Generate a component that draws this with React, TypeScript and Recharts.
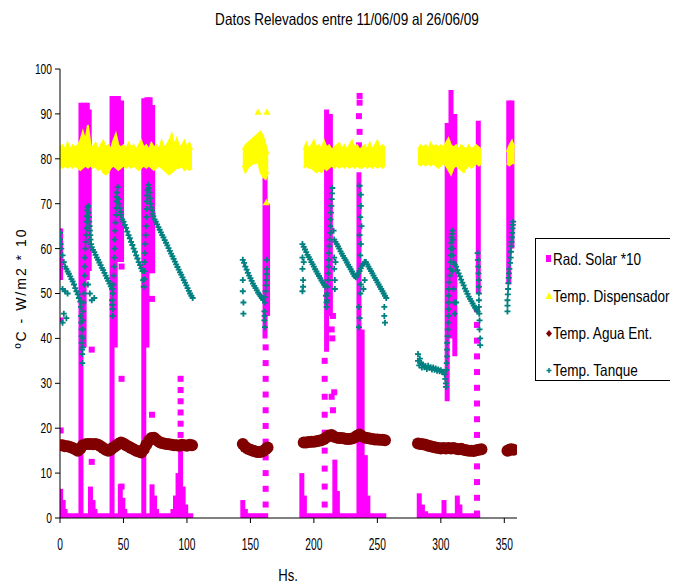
import React from 'react';
import { ComposedChart, XAxis, YAxis, Scatter, Line, Area } from 'recharts';

const FONT = '"Liberation Sans", Arial, sans-serif';

const xTicks = [0, 50, 100, 150, 200, 250, 300, 350];
const yTicks = [0, 10, 20, 30, 40, 50, 60, 70, 80, 90, 100];

// Rad. Solar *10 : daytime columns [hour, low, high]
const solarColumns = [
  [0.5, 53, 64.5], [0.5, 0, 6.5], [2.5, 0, 4], [4, 0, 2],
  [16.5, 0, 92.5], [19, 38, 92.5], [21.5, 53, 92.5], [23, 55, 91], [24, 0, 7], [26, 0, 4], [27.5, 0, 2],
  [41, 0, 94], [43.5, 38, 94], [46, 57, 94], [48.5, 57, 93], [47.5, 0, 7.5], [49.5, 0, 4.5], [51, 0, 2],
  [66, 0, 93.5], [68.5, 38, 93.7], [71, 54.5, 93.7], [73, 54.5, 92], [72.5, 0, 7.5], [74.5, 0, 5], [76, 0, 2],
  [89, 0, 2], [91, 0, 5], [93, 0, 10], [95, 0, 16], [97, 0, 7], [99, 0, 3],
  [144, 0, 4], [146, 0, 2], [161.5, 40, 76.5], [163.5, 45, 70],
  [190.5, 0, 10], [192.5, 0, 5], [210, 37, 91], [213, 45, 90], [216.5, 0, 13], [218.5, 0, 6],
  [235.5, 0, 77], [238, 0, 42], [240.5, 0, 14], [242.5, 0, 5],
  [283, 0, 5.5], [285.5, 0, 3], [288, 0, 1.5], [302.5, 0, 4], [305, 26, 88], [308, 40, 95.3], [311, 36, 90], [313, 0, 5], [315, 0, 3],
  [329.5, 50, 88.5],
  [353.5, 52, 93], [356, 60, 93],
];

// Rad. Solar *10 : isolated readings [hour, value]
const solarSquares = [
  [0.5, 44], [0.5, 19.5], [25, 37.5], [25, 12.5], [48.5, 56], [48.5, 31], [48.5, 7], [72.5, 48.8], [72.5, 23],
  [95, 18.5], [95, 21], [95, 23.5], [95, 26], [95, 28.5], [95, 31],
  [162, 3], [162, 6.5], [162, 10], [162, 13.5], [162, 17], [162, 20.5], [162, 24], [162, 27.5], [162, 31], [162, 34.5], [162, 38],
  [208.5, 3], [208.5, 7], [208.5, 11], [208.5, 15], [208.5, 19], [208.5, 23], [208.5, 27], [208.5, 31], [208.5, 35],
  [214, 42], [214.5, 40], [215, 45], [214, 27], [215, 24], [216, 28],
  [235.5, 80], [235.5, 83], [236, 86], [235.5, 89.5], [236, 92.5], [236, 94],
  [328.5, 1], [328.5, 4.5], [328.5, 8], [328.5, 11.5], [328.5, 15], [328.5, 18.5], [328.5, 22], [328.5, 25.5],
  [328.5, 29], [328.5, 32.5], [328.5, 36], [328.5, 39.5], [328.5, 43], [328.5, 46.5],
];

// Rad. Solar *10 : night-time zero readings [from hour, to hour]
const solarNights = [[1, 105], [144, 164], [190, 257], [282, 331]];

// Temp. Dispensador : [hour, low, high]
const dispA = [
  [0, 78.5, 82.5], [2, 78, 83], [4, 78.5, 82], [6, 78, 83.5], [8, 78.5, 82], [10, 78, 83], [12, 78.5, 82.5], [14, 78, 83],
  [16, 77.5, 84], [18, 78, 86], [20, 78.5, 84], [22, 78, 87.5], [24, 78.5, 83], [26, 78, 82.5], [28, 78.5, 83.5], [30, 77.5, 82],
  [32, 78, 83], [34, 77, 84], [36, 76.5, 82.5], [38, 77, 83], [40, 78, 82], [42, 78.5, 84], [44, 78, 85.5], [46, 77.5, 83],
  [48, 78, 82.5], [50, 78.5, 83], [52, 78, 82], [54, 78.5, 83.5], [56, 78, 82.5], [58, 78.5, 83], [60, 78, 82], [62, 77.5, 83],
  [64, 78, 84], [66, 78.5, 82.5], [68, 78, 83], [70, 78.5, 82], [72, 78, 83.5], [74, 77.5, 82.5], [76, 78, 83], [78, 78.5, 82],
  [80, 78, 84], [82, 77.5, 82.5], [84, 77, 83], [86, 76.5, 84], [88, 77, 85.5], [90, 77.5, 83], [92, 78, 84.5], [94, 78, 82.5],
  [96, 78.5, 83], [98, 77.5, 84], [100, 78, 82.5], [102, 77.5, 83.5], [104, 78, 82],
];
const dispB = [
  [144, 78.5, 82], [146, 77, 83], [148, 78, 83.5], [150, 78.5, 84], [152, 79, 84.5], [154, 79, 85],
  [156, 79.5, 85.5], [158, 77, 86], [160, 76, 85], [162, 75.5, 83], [164, 77, 81],
];
const dispC = [
  [192, 78, 82], [194, 78.5, 83.5], [196, 78, 82], [198, 78, 83], [200, 77.5, 84], [202, 77, 82.5], [204, 77.5, 83],
  [206, 77, 82], [208, 78, 84], [210, 77.5, 82.5], [212, 78, 83], [214, 78.5, 82], [216, 78, 82.5], [218, 78.5, 83],
  [220, 78, 83.5], [222, 78.5, 82], [224, 78, 83], [226, 78.5, 82], [228, 78, 83], [230, 78.5, 84], [232, 78, 82.5],
  [234, 78.5, 83], [236, 78, 82], [238, 78, 82.5], [240, 78.5, 83], [242, 78, 82], [244, 78.5, 83.5], [246, 78, 82],
  [248, 78.5, 83], [250, 78, 84], [252, 78.5, 82.5], [254, 78, 83], [256, 78.5, 82.5],
];
const dispD = [
  [282, 79, 82], [284, 78.5, 83], [286, 79, 82.5], [288, 78.5, 83], [290, 79, 82], [292, 78.5, 83.5], [294, 79, 82.5],
  [296, 78.5, 83], [298, 78, 82.5], [300, 78.5, 83], [302, 79, 82.5], [304, 78.5, 83.5], [306, 77.5, 84.5], [308, 76.5, 83],
  [310, 78, 82.5], [312, 78.5, 83], [314, 78, 82], [316, 77.5, 83], [318, 77, 82.5], [320, 78, 82], [322, 78.5, 83],
  [324, 78, 82], [326, 78.5, 82.5], [328, 79, 83], [330, 78.5, 82.5], [332, 79, 82],
];
const dispE = [[352, 79, 81.5], [354, 78.5, 83], [356, 79, 84], [358, 79, 82.5]];
const dispSingles = [[156, 90.5], [163, 90.5], [162.5, 70.3]];

// Temp. Agua Ent. : [hour, value]
const aguaA = [
  [0, 16.2], [2, 16.2], [4, 16], [6, 16], [8, 15.8], [10, 15.6], [12, 15.3], [14, 15], [16, 15.4], [18, 16.2], [20, 16.4],
  [22, 16.5], [24, 16.5], [26, 16.4], [28, 16.5], [30, 16.3], [32, 16], [34, 15.6], [36, 15.2], [38, 15], [40, 15.2],
  [42, 15.7], [44, 16.1], [46, 16.5], [48, 16.8], [50, 16.6], [52, 16.2], [54, 15.9], [56, 15.6], [58, 15.3], [60, 15],
  [62, 14.8], [64, 14.6], [66, 15.3], [68, 16.3], [70, 17.2], [72, 17.8], [74, 17.9], [76, 17.4], [78, 17], [80, 16.7],
  [82, 16.6], [84, 16.5], [86, 16.4], [88, 16.3], [90, 16.2], [92, 16.2], [94, 16.1], [96, 16.3], [98, 16.2], [100, 16.1],
  [102, 16.3], [104, 16.2],
];
const aguaB = [
  [144, 16.5], [146, 15.8], [148, 15.4], [150, 15.2], [152, 15], [154, 14.8], [156, 14.7], [158, 14.7], [160, 14.9],
  [162, 15.3], [163.5, 15.7],
];
const aguaC = [
  [192, 16.8], [194, 16.8], [196, 16.9], [198, 17], [200, 17], [202, 17.1], [204, 17.2], [206, 17.3], [208, 17.6],
  [210, 18], [212, 18.4], [214, 18.5], [216, 18.1], [218, 17.9], [220, 17.8], [222, 17.8], [224, 17.7], [226, 17.6],
  [228, 17.6], [230, 17.7], [232, 17.9], [234, 18.3], [236, 18.6], [238, 18.2], [240, 17.9], [242, 17.8], [244, 17.7],
  [246, 17.6], [248, 17.5], [250, 17.5], [252, 17.4], [254, 17.4], [256, 17.3],
];
const aguaD = [
  [282, 16.6], [284, 16.5], [286, 16.4], [288, 16.3], [290, 16.1], [292, 16], [294, 15.8], [296, 15.7], [298, 15.6],
  [300, 15.5], [302, 15.6], [304, 15.5], [306, 15.6], [308, 15.5], [310, 15.6], [312, 15.4], [314, 15.3], [316, 15.4],
  [318, 15.2], [320, 15.1], [322, 15], [324, 15], [326, 14.9], [328, 15.1], [330, 15.2], [332, 15.3],
];
const aguaE = [[352.5, 15], [354, 15.2], [355.5, 15.3], [357, 15.2]];

// Temp. Tanque : [hour, value]
const tanqueA = [
  [0, 63.5], [0, 62], [0.5, 61], [1, 60], [2, 58.5], [3, 57], [4, 56], [5, 55.5], [6, 54.9], [7, 54.4], [8, 53.8], [9, 53.2],
  [10, 52.7], [11, 52], [12, 51.2], [13, 50.5], [14, 49.8], [15, 49], [16, 48.2], [16.5, 47],
  [2, 51], [4, 50.5], [6, 50], [2, 43.5], [3, 45.5], [5, 44.5],
  [16.5, 45], [16.7, 43.5], [17, 42], [17, 40.5], [17, 39], [17.3, 37.5], [17.5, 36.5], [17.5, 34.5], [17.8, 38],
  [18, 40], [18, 42], [18, 44], [18.3, 46], [18.5, 48], [18.7, 50], [19, 52], [19.2, 54], [19.5, 56], [19.7, 58],
  [20, 60], [20.2, 61.5], [20.5, 63], [20.7, 64.5], [21, 66], [21.2, 67.2], [21.5, 68.5], [21.8, 69.2], [22, 69.5],
  [22.5, 68], [22.8, 67], [23, 66], [23.3, 65], [23.5, 64], [23.8, 63], [24, 62], [24.5, 61],
  [25, 60.3], [26, 59.7], [27, 59.2], [28, 58.6], [29, 58], [30, 57.5], [31, 56.9], [32, 56.3], [33, 55.7], [34, 55.2],
  [35, 54.6], [36, 54], [37, 53.4], [38, 52.8], [39, 52.2], [40, 51.6], [41, 51],
  [22, 52], [23.5, 50], [25, 48.5], [27, 49],
  [41, 48.5], [41.2, 47.5], [41.5, 46.5], [41.5, 45], [41.7, 50],
  [42, 52], [42.2, 54], [42.5, 56], [42.7, 58], [43, 60], [43.2, 62], [43.5, 64], [43.7, 65.8], [44, 67.5], [44.2, 69],
  [44.5, 70.5], [44.7, 71.5], [45, 72.5], [45.5, 73.7],
  [46, 71], [46.5, 70], [47, 69], [47.5, 68.2], [48, 67.5], [49, 66.5], [50, 66], [51, 65.3], [52, 64.6], [53, 63.8],
  [54, 63], [55, 62.3], [56, 61.5], [57, 60.8], [58, 60], [59, 59.3], [60, 58.5], [61, 57.8], [62, 57], [63, 56.3],
  [64, 55.6], [65, 55],
  [65.5, 53], [66, 51.5], [66.3, 53.2], [66.5, 55], [66.7, 57], [67, 59], [67.2, 61], [67.5, 63], [67.7, 65], [68, 67],
  [68.2, 68.8], [68.5, 70.5], [68.7, 71.8], [69, 73], [69.5, 74.2],
  [70, 73.5], [70.5, 72.5], [71, 71.2], [71.5, 70], [72, 69.2], [72.5, 68.5], [73, 67.8], [73.5, 67.2], [74.5, 66.5],
  [75.5, 66], [76.5, 65.4], [77.5, 64.8], [78.5, 64.2],
  [79.5, 63.6], [80.5, 63], [81.5, 62.5], [82.5, 61.9], [83.5, 61.3], [84.5, 60.7], [85.5, 60.1], [86.5, 59.5],
  [87.5, 58.9], [88.5, 58.3], [89.5, 57.7], [90.5, 57.1], [91.5, 56.5], [92.5, 55.9], [93.5, 55.3], [94.5, 54.7],
  [95.5, 54.2], [96.5, 53.6], [97.5, 53], [98.5, 52.4], [99.5, 51.8], [100.5, 51.2], [101.5, 50.6], [102.5, 50],
  [103.5, 49.5], [104.5, 49],
];
const tanqueB = [
  [144, 57.5], [145, 56.8], [146, 56], [147, 55.3], [148, 54.6], [149, 54], [150, 53.4], [151, 52.8], [152, 52.2],
  [153, 51.7], [154, 51.2], [155, 50.7], [156, 50.2], [157, 49.8], [158, 49.4], [159, 49], [160, 48.6],
  [144, 53], [144, 50.5], [144.5, 48], [144.5, 45.5],
  [161, 46], [161, 44], [161.5, 42.5], [161.2, 45], [161.5, 48], [161.7, 49.2], [162, 50.5], [162.2, 51.8],
  [162.5, 53], [162.7, 54.3], [163, 55.5], [163, 57.5],
];
const tanqueC = [
  [191, 61], [192, 60.4], [193, 59.8], [194, 59.2], [195, 58.6], [196, 58.1], [197, 57.6], [198, 57], [199, 56.5],
  [200, 56], [201, 55.4], [202, 54.9], [203, 54.4], [204, 53.9], [205, 53.4], [206, 52.9], [207, 52.4], [208, 52], [209, 51.5],
  [191, 58], [191, 55.5], [191.5, 53], [191.5, 51.5], [191, 50.5], [192, 57],
  [209.5, 49.5], [210, 48], [210, 47], [210.3, 48.5], [210.5, 50], [210.7, 51.5], [211, 53], [211.2, 54.5], [211.5, 56],
  [211.7, 57.5], [212, 59], [212.2, 60.5], [212.5, 62], [212.7, 63.5], [213, 65], [213.2, 66.5], [213.5, 68],
  [213.7, 69.5], [214, 71], [214.2, 72.3], [214.5, 73.5],
  [215.5, 64], [216, 62], [217, 61.5], [218, 61], [219, 60.5], [220, 60], [221, 59.4], [222, 58.9], [223, 58.4],
  [224, 57.9], [225, 57.4], [226, 56.9], [227, 56.4], [228, 55.9], [229, 55.4], [230, 54.9], [231, 54.4], [232, 53.9], [233, 53.6],
  [216, 58], [216, 55.5], [216.5, 53], [216.5, 51], [217, 57],
  [234, 54], [235, 54.5], [236, 55], [237, 55.6], [238, 56.2], [239, 56.6], [240, 57], [241, 57],
  [242, 56.5], [243, 56], [244, 55.5], [245, 55], [246, 54.5], [247, 54], [248, 53.5], [249, 53], [250, 52.5],
  [251, 52], [252, 51.5], [253, 51], [254, 50.5], [255, 50], [256, 49.5], [257, 49],
  [236, 74], [237, 72], [237, 69.5], [236.5, 67], [237.5, 65], [236, 63], [237, 61], [236.5, 58.5], [237, 52],
  [236.5, 50], [235.5, 47], [236, 44.5], [235.5, 42.5], [239, 51], [240, 53], [255.5, 47], [255.5, 45], [256, 43.5],
];
const tanqueD = [
  [282, 36.5], [282, 35], [283, 34], [283.5, 35.5], [284.5, 34.5], [285, 33.5], [286, 34.2], [287, 33.6], [288, 33.8],
  [289, 33.2], [290, 33.9], [291, 33.4], [292, 33.6], [293, 33.1], [294, 33.5], [295, 33], [296, 33.3], [297, 32.8],
  [298, 33.1], [299, 32.7], [300, 32.9], [301, 32.5], [302, 32.6], [303, 32], [303.5, 31], [304, 30], [304, 29.2],
  [304.5, 33], [304.7, 34.5], [305, 36], [305, 37.5], [305, 39], [305.3, 40.5], [305.5, 42], [305.7, 43.5], [306, 45],
  [306, 46.5], [306, 48], [306.3, 49.5], [306.5, 51], [306.7, 52.5], [307, 54], [307.2, 55.5], [307.5, 57],
  [307.7, 58.5], [308, 60], [308.3, 61.3], [308.5, 62.5], [308.7, 63.3], [309, 64], [309.3, 62], [309.5, 60], [309.7, 58.5],
  [310, 57], [311, 56.5], [312, 56], [313, 55.2], [314, 54.5], [315, 53.8], [316, 53.1], [317, 52.4], [318, 51.8],
  [319, 51.1], [320, 50.5], [321, 49.9], [322, 49.3], [323, 48.8], [324, 48.3], [325, 47.8], [326, 47.3], [327, 46.8],
  [328, 46.4], [329, 46],
  [309, 55], [310, 51], [310.5, 48], [311, 45.5], [312, 48],
  [329, 59], [329.2, 57.5], [329.5, 56], [329.7, 54.5], [330, 53], [330, 51.5], [330, 50], [330, 48.5], [330, 47],
  [330.3, 45.5], [330.5, 44], [330.5, 42], [331, 40], [331, 38.5],
];
const tanqueE = [
  [352.5, 46], [352.5, 47.3], [352.5, 48.5], [352.8, 49.8], [353, 51], [353.2, 52.3], [353.5, 53.5], [353.7, 54.5],
  [354, 55.5], [354.5, 56.8], [355, 58], [355.2, 59.3], [355.5, 60.5], [355.7, 61.5], [356, 62.5], [356.2, 63.5],
  [356.5, 64.5], [356.7, 65.3], [357, 66],
];

const MAGENTA = '#FF00FF';
const YELLOW = '#FFFF00';
const MAROON = '#800000';
const TEAL = '#008080';

const pts = (rows: number[][]) => rows.map(([x, y]) => ({ x, y }));
const ranges = (rows: number[][]) => rows.map(([x, lo, hi]) => ({ x, range: [lo, hi] }));

const dispSegments = [dispA, dispB, dispC, dispD, dispE].map(ranges);
const aguaData = pts([...aguaA, ...aguaB, ...aguaC, ...aguaD, ...aguaE]);
const tanqueData = pts([...tanqueA, ...tanqueB, ...tanqueC, ...tanqueD, ...tanqueE]);

const Square = (p: any) => <rect x={p.cx - 3} y={p.cy - 3} width={6} height={6} fill={MAGENTA} />;
const Triangle = (p: any) => (
  <path d={`M${p.cx},${p.cy - 3.5}L${p.cx + 3.5},${p.cy + 3}L${p.cx - 3.5},${p.cy + 3}Z`} fill={YELLOW} />
);
const Dot = (p: any) => <circle cx={p.cx} cy={p.cy} r={6} fill={MAROON} />;
const Plus = (p: any) => (
  <path d={`M${p.cx - 3},${p.cy}h6M${p.cx},${p.cy - 3}v6`} stroke={TEAL} strokeWidth={1.8} fill="none" />
);

const XTick = ({ x, y, payload }: any) => (
  <g transform={`translate(${x},${y + 21})`}>
    <text transform="scale(0.82,1.3)" textAnchor="middle" dy="0.35em" fontSize={12.5} fontFamily={FONT} fill="#000">
      {payload.value}
    </text>
  </g>
);
const YTick = ({ x, y, payload }: any) => (
  <g transform={`translate(${x - 3},${y})`}>
    <text transform="scale(0.82,1.12)" textAnchor="end" dy="0.35em" fontSize={12.5} fontFamily={FONT} fill="#000">
      {payload.value}
    </text>
  </g>
);

const legendItems = [
  { label: 'Rad. Solar *10', marker: <rect x={0} y={0} width={5} height={7} fill={MAGENTA} /> },
  { label: 'Temp. Dispensador', marker: <path d="M3,0L6.5,7L-0.5,7Z" fill={YELLOW} /> },
  { label: 'Temp. Agua Ent.', marker: <path d="M3,0L6,3.5L3,7L0,3.5Z" fill={MAROON} /> },
  { label: 'Temp. Tanque', marker: <path d="M0.5,3.5h5M3,1v5" stroke={TEAL} strokeWidth={1.5} /> },
];

const textStyle = (size: number): React.CSSProperties => ({
  fontFamily: FONT, fontSize: size, whiteSpace: 'nowrap', color: '#000',
});

export default function App() {
  return (
    <div style={{ position: 'relative', width: 670, height: 577, overflow: 'hidden', background: '#fff' }}>
      <div style={{ position: 'absolute', left: 339, top: 10.5, transform: 'translate(-50%,-50%) scaleX(0.82)', ...textStyle(16.5) }}>
        Datos Relevados entre 11/06/09 al 26/06/09
      </div>
      <div
        style={{
          position: 'absolute', left: 13, top: 279.5, transform: 'translate(-50%,-50%) rotate(-90deg)',
          ...textStyle(14), letterSpacing: 2,
        }}
      >
        ºC - W/m2 * 10
      </div>
      <div style={{ position: 'absolute', left: 280, top: 568, transform: 'translate(-50%,-50%) scaleX(0.82)', ...textStyle(16) }}>
        Hs.
      </div>

      <ComposedChart width={670} height={577} margin={{ top: 61, right: 161, bottom: 0, left: 0 }}>
        <XAxis
          dataKey="x" type="number" domain={[0, 360]} ticks={xTicks} allowDataOverflow
          height={67} tickSize={5} tickMargin={0} tick={<XTick />}
          axisLine={{ stroke: '#000' }} tickLine={{ stroke: '#000' }}
        />
        <XAxis
          xAxisId="top" orientation="top" type="number" domain={[0, 360]} height={0}
          tick={false} tickLine={false} axisLine={{ stroke: '#888' }}
        />
        <YAxis
          type="number" domain={[0, 100]} ticks={yTicks} allowDataOverflow
          width={52} tickSize={5} tickMargin={0} tick={<YTick />}
          axisLine={{ stroke: '#000' }} tickLine={{ stroke: '#000' }}
        />
        <YAxis
          yAxisId="right" orientation="right" type="number" domain={[0, 100]} width={0}
          tick={false} tickLine={false} axisLine={{ stroke: '#888' }}
        />

        {solarColumns.map(([x, lo, hi], i) => (
          <Line
            key={`c${i}`} data={[{ x, y: lo }, { x, y: hi }]} dataKey="y" zIndex={50}
            stroke={MAGENTA} strokeWidth={5} dot={false} activeDot={false} isAnimationActive={false}
          />
        ))}
        {solarNights.map(([a, b]) => (
          <Line
            key={`n${a}`} data={[{ x: a, y: 0.4 }, { x: b, y: 0.4 }]} dataKey="y" zIndex={50}
            stroke={MAGENTA} strokeWidth={6} dot={false} activeDot={false} isAnimationActive={false}
          />
        ))}
        <Scatter data={pts(solarSquares)} dataKey="y" shape={Square} zIndex={60} isAnimationActive={false} />

        {dispSegments.map((seg, i) => (
          <Area
            key={`d${i}`} data={seg} dataKey="range" type="linear" zIndex={100}
            stroke={YELLOW} strokeWidth={2} fill={YELLOW} fillOpacity={1}
            dot={false} activeDot={false} isAnimationActive={false}
          />
        ))}
        <Scatter data={pts(dispSingles)} dataKey="y" shape={Triangle} isAnimationActive={false} />

        <Scatter data={aguaData} dataKey="y" shape={Dot} isAnimationActive={false} />
        <Scatter data={tanqueData} dataKey="y" shape={Plus} isAnimationActive={false} />
      </ComposedChart>

      <div
        style={{
          position: 'absolute', left: 527, top: 230, width: 146, height: 141,
          border: '1px solid #000', borderRight: 'none', background: '#fff',
        }}
      >
        {legendItems.map((it, i) => (
          <div
            key={it.label}
            style={{
              position: 'absolute', left: 10, top: 10 + i * 37.3, height: 20,
              display: 'flex', alignItems: 'center',
              ...textStyle(16.5),
            }}
          >
            <svg width={7} height={8} style={{ overflow: 'visible' }}>{it.marker}</svg>
            <span style={{ display: 'inline-block', transform: 'scaleX(0.82)', transformOrigin: 'left center' }}>
              {it.label}
            </span>
          </div>
        ))}
      </div>
    </div>
  );
}
